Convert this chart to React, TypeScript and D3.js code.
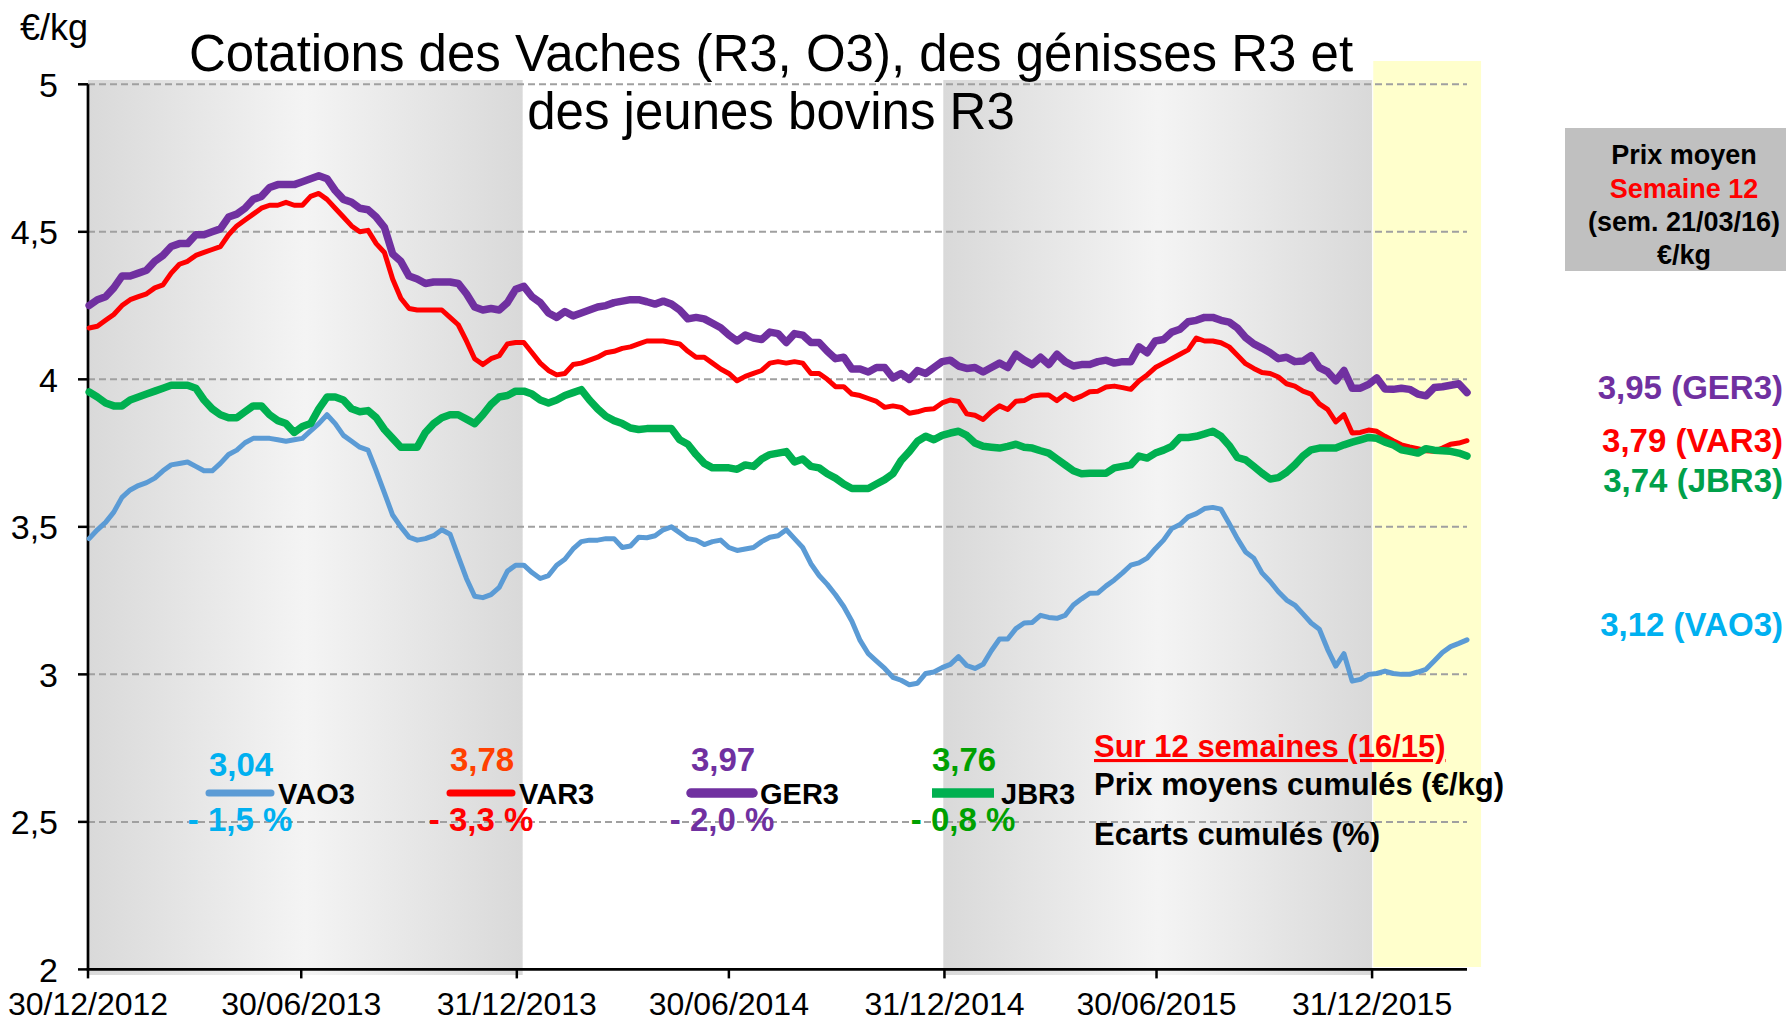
import React from 'react';
import * as d3 from 'd3';

// weekly quotations, first week 31/12/2012, last week 21/03/2016
const FIRST_WEEK = Date.UTC(2012, 11, 31);
const DAY = 864e5;

const vao3 = [
  3.46, 3.49, 3.515, 3.55, 3.60, 3.625, 3.64, 3.65, 3.665, 3.69, 3.71, 3.715, 3.72, 3.705, 3.69, 3.69, 3.715,
  3.745, 3.76, 3.785, 3.80, 3.80, 3.80, 3.795, 3.79, 3.795, 3.80, 3.825, 3.85, 3.88, 3.85, 3.81, 3.79, 3.77,
  3.76, 3.69, 3.615, 3.54, 3.50, 3.465, 3.455, 3.46, 3.47, 3.49, 3.475, 3.40, 3.325, 3.265, 3.26, 3.27, 3.295,
  3.35, 3.37, 3.37, 3.345, 3.325, 3.335, 3.37, 3.39, 3.425, 3.45, 3.455, 3.455, 3.46, 3.46, 3.43, 3.435, 3.465,
  3.463, 3.47, 3.49, 3.50, 3.48, 3.46, 3.455, 3.44, 3.45, 3.455, 3.43, 3.42, 3.425, 3.43, 3.45, 3.465, 3.47,
  3.49, 3.46, 3.43, 3.375, 3.335, 3.305, 3.27, 3.23, 3.18, 3.115, 3.07, 3.045, 3.02, 2.99, 2.98, 2.965, 2.97,
  3.003, 3.008, 3.023, 3.034, 3.06, 3.03, 3.02, 3.034, 3.08, 3.12, 3.12, 3.155, 3.174, 3.176, 3.20, 3.193,
  3.19, 3.20, 3.235, 3.256, 3.275, 3.276, 3.30, 3.32, 3.344, 3.37, 3.378, 3.394, 3.426, 3.455, 3.494, 3.508,
  3.534, 3.545, 3.562,
  3.566, 3.56, 3.511, 3.46, 3.415, 3.394, 3.344, 3.315, 3.28, 3.252, 3.235, 3.205, 3.174, 3.153, 3.085, 3.028,
  3.07, 2.977, 2.983, 3.0, 3.003, 3.011, 3.003, 3.0, 3.0, 3.008, 3.017, 3.045, 3.074, 3.094, 3.105, 3.117,
];

const var3 = [
  4.174, 4.18, 4.20, 4.22, 4.25, 4.27, 4.28, 4.29, 4.31, 4.32, 4.36, 4.39, 4.40, 4.42, 4.43, 4.44, 4.45,
  4.49, 4.52, 4.54, 4.56, 4.58, 4.59, 4.59, 4.60, 4.59, 4.59, 4.62, 4.63, 4.61, 4.58, 4.55, 4.52, 4.50,
  4.505, 4.46, 4.43, 4.34, 4.275, 4.24, 4.235, 4.235, 4.235, 4.235, 4.21, 4.185, 4.13, 4.07, 4.05, 4.07, 4.08,
  4.12, 4.125, 4.125, 4.09, 4.055, 4.03, 4.015, 4.02, 4.05, 4.055, 4.065, 4.075, 4.09, 4.095, 4.105, 4.11, 4.12,
  4.13, 4.13, 4.13, 4.125, 4.12, 4.095, 4.075, 4.075, 4.055, 4.035, 4.02, 3.995, 4.01, 4.02, 4.03, 4.055, 4.06,
  4.055, 4.06, 4.055, 4.02, 4.02, 4.0, 3.975, 3.975, 3.95, 3.945, 3.935, 3.925, 3.905, 3.91, 3.905, 3.885, 3.89,
  3.898, 3.90, 3.92, 3.93, 3.925, 3.883, 3.878, 3.864, 3.89, 3.91, 3.898, 3.926, 3.928, 3.943, 3.947, 3.947,
  3.928, 3.949, 3.932, 3.943, 3.958, 3.96, 3.974, 3.977, 3.972, 3.966, 3.994, 4.015, 4.04, 4.055, 4.07, 4.085,
  4.10, 4.14, 4.13,
  4.13, 4.124, 4.11, 4.082, 4.053, 4.037, 4.023, 4.02, 4.008, 3.985, 3.977, 3.96, 3.95, 3.917, 3.898, 3.856,
  3.88, 3.818, 3.82, 3.828, 3.824, 3.807, 3.792, 3.778, 3.771, 3.765, 3.758, 3.756, 3.767, 3.78, 3.784, 3.792,
];

const ger3 = [
  4.25, 4.27, 4.28, 4.31, 4.35, 4.35, 4.36, 4.37, 4.40, 4.42, 4.45, 4.46, 4.46, 4.49, 4.49, 4.50, 4.51,
  4.55, 4.56, 4.58, 4.61, 4.62, 4.65, 4.66, 4.66, 4.66, 4.67, 4.68, 4.69, 4.68, 4.64, 4.61, 4.60, 4.58,
  4.575, 4.55, 4.515, 4.425, 4.40, 4.35, 4.34, 4.325, 4.33, 4.33, 4.33, 4.325, 4.29, 4.245, 4.235, 4.24, 4.235,
  4.26, 4.305, 4.315, 4.28, 4.26, 4.225, 4.21, 4.23, 4.215, 4.225, 4.235, 4.245, 4.25, 4.26, 4.265, 4.27, 4.27,
  4.263, 4.255, 4.265, 4.255, 4.235, 4.205, 4.21, 4.205, 4.19, 4.175, 4.15, 4.13, 4.15, 4.14, 4.135, 4.16, 4.155,
  4.125, 4.155, 4.15, 4.125, 4.125, 4.095, 4.07, 4.075, 4.035, 4.035, 4.025, 4.04, 4.04, 4.005, 4.02, 4.0, 4.03,
  4.02, 4.04, 4.06, 4.065, 4.045, 4.037, 4.04, 4.025, 4.04, 4.055, 4.04, 4.085, 4.065, 4.05, 4.075, 4.05,
  4.085, 4.06, 4.045, 4.05, 4.05, 4.06, 4.065, 4.055, 4.06, 4.06, 4.11, 4.09, 4.13, 4.135, 4.16, 4.17,
  4.195, 4.20, 4.21,
  4.21, 4.20, 4.194, 4.174, 4.142, 4.12, 4.106, 4.09, 4.07, 4.075, 4.06, 4.062, 4.08, 4.04, 4.026, 3.995,
  4.03, 3.97, 3.97, 3.983, 4.005, 3.967, 3.966, 3.97, 3.966, 3.95, 3.944, 3.972, 3.975, 3.98, 3.985, 3.955,
];

const jbr3 = [
  3.957, 3.94, 3.92, 3.91, 3.91, 3.93, 3.94, 3.95, 3.96, 3.97, 3.98, 3.98, 3.98, 3.97, 3.93, 3.90, 3.88,
  3.87, 3.87, 3.89, 3.91, 3.91, 3.88, 3.86, 3.85, 3.82, 3.84, 3.85, 3.90, 3.94, 3.94, 3.93, 3.90, 3.89,
  3.894, 3.87, 3.83, 3.80, 3.77, 3.77, 3.77, 3.82, 3.85, 3.87, 3.88, 3.88, 3.865, 3.85, 3.88, 3.915, 3.94,
  3.945, 3.96, 3.96, 3.95, 3.93, 3.92, 3.93, 3.945, 3.955, 3.965, 3.93, 3.90, 3.875, 3.86, 3.85, 3.835, 3.83,
  3.833, 3.833, 3.833, 3.833, 3.795, 3.78, 3.745, 3.715, 3.70, 3.70, 3.70, 3.695, 3.71, 3.705, 3.73, 3.745, 3.75,
  3.755, 3.72, 3.73, 3.705, 3.70, 3.68, 3.665, 3.645, 3.63, 3.63, 3.63, 3.645, 3.66, 3.68, 3.725, 3.755, 3.79,
  3.807, 3.795, 3.81, 3.818, 3.824, 3.81, 3.784, 3.773, 3.77, 3.767, 3.773, 3.78, 3.77, 3.767, 3.758, 3.75,
  3.73, 3.71, 3.69, 3.68, 3.682, 3.682, 3.682, 3.70, 3.705, 3.71, 3.74, 3.733, 3.75, 3.76, 3.773, 3.803,
  3.803, 3.807, 3.815,
  3.824, 3.807, 3.776, 3.735, 3.727, 3.705, 3.682, 3.662, 3.667, 3.685, 3.71, 3.74, 3.761, 3.767, 3.767, 3.767,
  3.778, 3.787, 3.795, 3.803, 3.80, 3.787, 3.778, 3.761, 3.756, 3.75, 3.765, 3.76, 3.758, 3.756, 3.75, 3.74,
];

// draw order: VAO3, VAR3, GER3, JBR3
const seriesNames = ['VAO3', 'VAR3', 'GER3', 'JBR3'];
const seriesValues = [vao3, var3, ger3, jbr3];
const seriesColors = ['#5b9bd5', '#ff0000', '#7030a0', '#00b050'];
const seriesWidths = [5, 5, 7.5, 7.5];

// 12 weeks cumulated (16/15)
const avgLabels = ['3,04', '3,78', '3,97', '3,76'];
const avgColors = ['#00b0f0', '#ff4000', '#7030a0', '#00a000'];
const pctLabels = ['- 1,5 %', '- 3,3 %', '- 2,0 %', '- 0,8 %'];
const pctColors = ['#00b0f0', '#ff0000', '#7030a0', '#00a000'];

// latest week
const lastLabels = ['3,95 (GER3)', '3,79 (VAR3)', '3,74 (JBR3)', '3,12 (VAO3)'];
const lastColors = ['#7030a0', '#ff0000', '#00a04a', '#00b0f0'];

const yTicks = [2, 2.5, 3, 3.5, 4, 4.5, 5];
const xTickDates = ['2012-12-30', '2013-06-30', '2013-12-31', '2014-06-30', '2014-12-31', '2015-06-30', '2015-12-31'];
const grayPeriods = [['2012-12-30', '2014-01-05'], ['2014-12-30', '2015-12-31']];
const yellowPeriod = ['2016-01-01', '2016-04-02'];

const FONT = '"Liberation Sans", Arial, sans-serif';
const W = 1786;
const H = 1024;

const parse = d3.utcParse('%Y-%m-%d');
const fmt = d3.utcFormat('%d/%m/%Y');

export default function App() {
  const x = d3.scaleUtc()
    .domain([Date.UTC(2012, 11, 30), Date.UTC(2016, 2, 21)])
    .range([88, 1467]);
  const y = d3.scaleLinear().domain([2, 5]).range([969.4, 84.3]);

  const weeks = vao3.map((_, i) => new Date(FIRST_WEEK + i * 7 * DAY));
  const line = d3.line<number>()
    .x((_, i) => x(weeks[i]))
    .y(d => y(d));

  const legendX = (i: number) => 209 + i * 241;

  return (
    <svg width={W} height={H} style={{ position: 'absolute', left: 0, top: 0, background: '#fff' }} fontFamily={FONT}>
      <defs>
        <linearGradient id="band" x1="0" x2="1" y1="0" y2="0">
          <stop offset="0%" stopColor="#d9d9d9" />
          <stop offset="50%" stopColor="#f4f4f4" />
          <stop offset="100%" stopColor="#d9d9d9" />
        </linearGradient>
      </defs>

      {grayPeriods.map(([a, b], i) => (
        <rect key={i} x={x(parse(a)!)} y={80} width={x(parse(b)!) - x(parse(a)!)} height={895} fill="url(#band)" />
      ))}
      <rect x={x(parse(yellowPeriod[0])!)} y={61}
        width={x(parse(yellowPeriod[1])!) - x(parse(yellowPeriod[0])!)} height={906} fill="#ffffcc" />

      {yTicks.filter(t => t > 2).map(t => (
        <line key={t} x1={88} x2={1467} y1={y(t)} y2={y(t)} stroke="#a0a0a0" strokeWidth={2} strokeDasharray="7,4" />
      ))}

      {/* axes */}
      <line x1={88} x2={88} y1={y(5)} y2={y(2)} stroke="#000" strokeWidth={2.7} />
      <line x1={86.6} x2={1467} y1={y(2)} y2={y(2)} stroke="#000" strokeWidth={2.7} />
      {yTicks.map(t => (
        <g key={t}>
          <line x1={78} x2={88} y1={y(t)} y2={y(t)} stroke="#000" strokeWidth={2.5} />
          <text x={58} y={y(t) + 12.5} textAnchor="end" fontSize={34}>{String(t).replace('.', ',')}</text>
        </g>
      ))}
      {xTickDates.map(s => {
        const d = parse(s)!;
        return (
          <g key={s}>
            <line x1={x(d)} x2={x(d)} y1={y(2)} y2={y(2) + 9} stroke="#000" strokeWidth={2.5} />
            <text x={x(d)} y={1015} textAnchor="middle" fontSize={32}>{fmt(d)}</text>
          </g>
        );
      })}
      <text x={20} y={40} fontSize={36}>€/kg</text>

      {/* series */}
      {seriesValues.map((vals, i) => (
        <path key={seriesNames[i]} d={line(vals) || ''} fill="none" stroke={seriesColors[i]}
          strokeWidth={seriesWidths[i]} strokeLinejoin="round" strokeLinecap="round" />
      ))}

      {/* title */}
      <text x={771} textAnchor="middle" fontSize={51}>
        <tspan x={771} y={71}>Cotations des Vaches (R3, O3), des génisses R3 et</tspan>
        <tspan x={771} y={129}>des jeunes bovins R3</tspan>
      </text>

      {/* legend with 12-week figures */}
      {seriesNames.map((name, i) => {
        const lx = legendX(i);
        return (
          <g key={name} fontWeight="bold">
            <text x={lx + 32} y={i === 0 ? 776 : 771} textAnchor="middle" fontSize={33} fill={avgColors[i]}>{avgLabels[i]}</text>
            <line x1={lx} x2={lx + 62} y1={793} y2={793} stroke={seriesColors[i]}
              strokeWidth={seriesWidths[i] + 2} strokeLinecap={i === 3 ? 'butt' : 'round'} />
            <text x={lx + 69} y={804} fontSize={29} fill="#000">{name}</text>
            <text x={lx + 31} y={831} textAnchor="middle" fontSize={33} fill={pctColors[i]}>{pctLabels[i]}</text>
          </g>
        );
      })}
      <g fontWeight="bold" fontSize={31}>
        <text x={1094} y={757} fill="#ff0000" textDecoration="underline">Sur 12 semaines (16/15)</text>
        <text x={1094} y={795} fill="#000">Prix moyens cumulés (€/kg)</text>
        <text x={1094} y={845} fill="#000">Ecarts cumulés (%)</text>
      </g>

      {/* latest week box */}
      <rect x={1565} y={128} width={221} height={143} fill="#c0c0c0" />
      <g fontWeight="bold" fontSize={27} textAnchor="middle">
        <text x={1684} y={164} fill="#000">Prix moyen</text>
        <text x={1684} y={198} fill="#ff0000">Semaine 12</text>
        <text x={1684} y={231} fill="#000">(sem. 21/03/16)</text>
        <text x={1684} y={264} fill="#000">€/kg</text>
      </g>
      <g fontWeight="bold" fontSize={33} textAnchor="end">
        {lastLabels.map((t, i) => (
          <text key={t} x={1783} y={[399, 452, 492, 636][i]} fill={lastColors[i]}>{t}</text>
        ))}
      </g>
    </svg>
  );
}
